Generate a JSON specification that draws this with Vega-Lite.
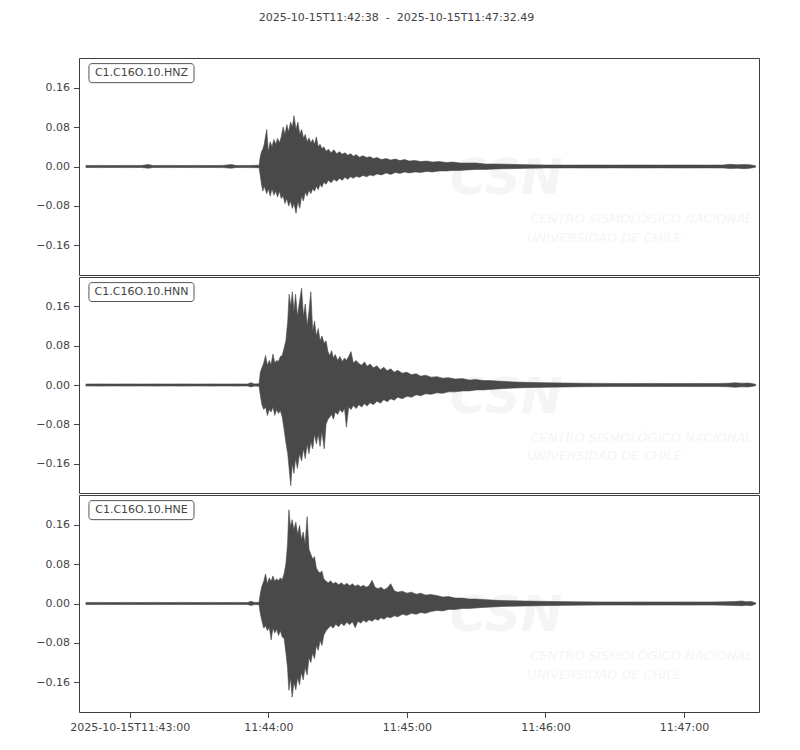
{
  "$schema": "https://vega.github.io/schema/vega-lite/v6.json",
  "padding": {"left": 33, "top": 11, "right": 5, "bottom": 5},
  "title": {
    "text": "2025-10-15T11:42:38 \u00a0-\u00a0 2025-10-15T11:47:32.49",
    "anchor": "middle",
    "font": "DejaVu Sans",
    "fontSize": 11,
    "fontWeight": "normal",
    "color": "#444444",
    "offset": 35
  },
  "datasets": {
    "labels": [
      {"c": "HNZ", "label": "C1.C16O.10.HNZ"},
      {"c": "HNN", "label": "C1.C16O.10.HNN"},
      {"c": "HNE", "label": "C1.C16O.10.HNE"}
    ],
    "wm": [
      {"k": "logo", "s": "CSN"},
      {"k": "l1", "s": "CENTRO SISMOLÓGICO NACIONAL"},
      {"k": "l2", "s": "UNIVERSIDAD DE CHILE"}
    ],
    "hnz": [
      {"t":3,"lo":-0.002,"hi":0.002},{"t":9,"lo":-0.0022,"hi":0.0022},{"t":15,"lo":-0.002,"hi":0.002},{"t":21,"lo":-0.0022,"hi":0.0022},
      {"t":27,"lo":-0.002,"hi":0.002},{"t":30,"lo":-0.0035,"hi":0.004},{"t":32,"lo":-0.002,"hi":0.002},{"t":38,"lo":-0.0022,"hi":0.0022},
      {"t":44,"lo":-0.002,"hi":0.002},{"t":50,"lo":-0.0022,"hi":0.0022},{"t":56,"lo":-0.002,"hi":0.002},{"t":62,"lo":-0.0022,"hi":0.0022},
      {"t":66,"lo":-0.0035,"hi":0.004},{"t":68,"lo":-0.002,"hi":0.002},{"t":74,"lo":-0.0022,"hi":0.0022},{"t":78,"lo":-0.0025,"hi":0.0025},
      {"t":78.5,"lo":-0.018,"hi":0.02},{"t":79,"lo":-0.035,"hi":0.03},{"t":79.6,"lo":-0.05,"hi":0.035},{"t":80.2,"lo":-0.04,"hi":0.045},
      {"t":81.3,"lo":-0.055,"hi":0.075},{"t":82,"lo":-0.045,"hi":0.03},{"t":82.8,"lo":-0.06,"hi":0.05},{"t":83.6,"lo":-0.045,"hi":0.04},
      {"t":84.4,"lo":-0.058,"hi":0.055},{"t":85.2,"lo":-0.05,"hi":0.045},{"t":86,"lo":-0.062,"hi":0.057},{"t":86.8,"lo":-0.05,"hi":0.048},
      {"t":87.6,"lo":-0.065,"hi":0.06},{"t":88.4,"lo":-0.06,"hi":0.08},{"t":89.2,"lo":-0.075,"hi":0.065},{"t":90,"lo":-0.065,"hi":0.085},
      {"t":90.8,"lo":-0.08,"hi":0.07},{"t":91.6,"lo":-0.07,"hi":0.09},{"t":92.4,"lo":-0.085,"hi":0.08},{"t":93.1,"lo":-0.075,"hi":0.103},
      {"t":94,"lo":-0.095,"hi":0.075},{"t":94.8,"lo":-0.07,"hi":0.09},{"t":95.6,"lo":-0.085,"hi":0.065},{"t":96.4,"lo":-0.06,"hi":0.075},
      {"t":97.2,"lo":-0.07,"hi":0.058},{"t":98,"lo":-0.052,"hi":0.065},{"t":98.8,"lo":-0.06,"hi":0.05},{"t":99.6,"lo":-0.048,"hi":0.058},
      {"t":100.4,"lo":-0.055,"hi":0.048},{"t":101.2,"lo":-0.045,"hi":0.055},{"t":102,"lo":-0.05,"hi":0.045},{"t":102.8,"lo":-0.04,"hi":0.06},
      {"t":103.6,"lo":-0.047,"hi":0.04},{"t":104.4,"lo":-0.036,"hi":0.045},{"t":105.2,"lo":-0.042,"hi":0.036},{"t":106,"lo":-0.032,"hi":0.04},
      {"t":107,"lo":-0.036,"hi":0.031},{"t":108,"lo":-0.028,"hi":0.035},{"t":109.2,"lo":-0.033,"hi":0.028},{"t":110.4,"lo":-0.026,"hi":0.034},
      {"t":111.6,"lo":-0.03,"hi":0.026},{"t":112.8,"lo":-0.024,"hi":0.03},{"t":114,"lo":-0.028,"hi":0.025},{"t":115.2,"lo":-0.022,"hi":0.028},
      {"t":116.4,"lo":-0.026,"hi":0.023},{"t":117.6,"lo":-0.021,"hi":0.026},{"t":118.8,"lo":-0.024,"hi":0.021},{"t":120,"lo":-0.02,"hi":0.024},
      {"t":121.5,"lo":-0.022,"hi":0.019},{"t":123,"lo":-0.018,"hi":0.022},{"t":124.5,"lo":-0.021,"hi":0.018},{"t":126,"lo":-0.017,"hi":0.02},
      {"t":127.5,"lo":-0.019,"hi":0.016},{"t":129,"lo":-0.015,"hi":0.018},{"t":131,"lo":-0.017,"hi":0.014},{"t":133,"lo":-0.013,"hi":0.016},
      {"t":135,"lo":-0.016,"hi":0.013},{"t":137,"lo":-0.012,"hi":0.015},{"t":139,"lo":-0.014,"hi":0.012},{"t":141,"lo":-0.011,"hi":0.014},
      {"t":143,"lo":-0.013,"hi":0.011},{"t":145.5,"lo":-0.011,"hi":0.012},{"t":148,"lo":-0.012,"hi":0.01},{"t":150.5,"lo":-0.01,"hi":0.011},
      {"t":153,"lo":-0.011,"hi":0.009},{"t":156,"lo":-0.009,"hi":0.01},{"t":159,"lo":-0.009,"hi":0.008},{"t":162,"lo":-0.008,"hi":0.009},
      {"t":165,"lo":-0.008,"hi":0.007},{"t":168,"lo":-0.007,"hi":0.007},{"t":172,"lo":-0.006,"hi":0.007},{"t":176,"lo":-0.006,"hi":0.005},
      {"t":180,"lo":-0.005,"hi":0.005},{"t":185,"lo":-0.0045,"hi":0.0045},{"t":190,"lo":-0.004,"hi":0.004},{"t":195,"lo":-0.0035,"hi":0.0035},
      {"t":202,"lo":-0.003,"hi":0.003},{"t":212,"lo":-0.0028,"hi":0.0028},{"t":222,"lo":-0.003,"hi":0.003},{"t":232,"lo":-0.0028,"hi":0.0028},
      {"t":242,"lo":-0.003,"hi":0.003},{"t":252,"lo":-0.0028,"hi":0.0028},{"t":262,"lo":-0.003,"hi":0.003},{"t":272,"lo":-0.0028,"hi":0.0028},
      {"t":279,"lo":-0.003,"hi":0.003},{"t":282,"lo":-0.004,"hi":0.0045},{"t":285,"lo":-0.0035,"hi":0.0035},{"t":288,"lo":-0.0045,"hi":0.004},
      {"t":290.5,"lo":-0.0035,"hi":0.0035},{"t":293,"lo":-0.0015,"hi":0.0015}
    ],
    "hnn": [
      {"t":3,"lo":-0.002,"hi":0.002},{"t":9,"lo":-0.0022,"hi":0.0022},{"t":15,"lo":-0.002,"hi":0.002},{"t":21,"lo":-0.0022,"hi":0.0022},
      {"t":27,"lo":-0.002,"hi":0.002},{"t":33,"lo":-0.0022,"hi":0.0022},{"t":39,"lo":-0.002,"hi":0.002},{"t":45,"lo":-0.0022,"hi":0.0022},
      {"t":51,"lo":-0.002,"hi":0.002},{"t":57,"lo":-0.0022,"hi":0.0022},{"t":63,"lo":-0.002,"hi":0.002},{"t":69,"lo":-0.0022,"hi":0.0022},
      {"t":73,"lo":-0.002,"hi":0.002},{"t":74.5,"lo":-0.004,"hi":0.0045},{"t":76,"lo":-0.0022,"hi":0.0022},{"t":78,"lo":-0.0025,"hi":0.0025},
      {"t":78.5,"lo":-0.02,"hi":0.025},{"t":79.2,"lo":-0.04,"hi":0.035},{"t":80,"lo":-0.05,"hi":0.045},{"t":80.8,"lo":-0.045,"hi":0.06},
      {"t":81.6,"lo":-0.062,"hi":0.04},{"t":82.4,"lo":-0.05,"hi":0.05},{"t":83.2,"lo":-0.055,"hi":0.042},{"t":84,"lo":-0.045,"hi":0.063},
      {"t":84.8,"lo":-0.062,"hi":0.045},{"t":85.6,"lo":-0.05,"hi":0.05},{"t":86.4,"lo":-0.058,"hi":0.048},{"t":87.2,"lo":-0.052,"hi":0.058},
      {"t":88,"lo":-0.065,"hi":0.06},{"t":88.8,"lo":-0.09,"hi":0.075},{"t":89.6,"lo":-0.117,"hi":0.09},{"t":90.4,"lo":-0.14,"hi":0.13},
      {"t":91,"lo":-0.17,"hi":0.185},{"t":91.7,"lo":-0.205,"hi":0.16},{"t":92.4,"lo":-0.16,"hi":0.19},{"t":93.1,"lo":-0.18,"hi":0.15},
      {"t":93.8,"lo":-0.15,"hi":0.185},{"t":94.6,"lo":-0.17,"hi":0.14},{"t":95.5,"lo":-0.14,"hi":0.17},{"t":96.4,"lo":-0.155,"hi":0.197},
      {"t":97.2,"lo":-0.13,"hi":0.14},{"t":98,"lo":-0.15,"hi":0.165},{"t":98.8,"lo":-0.12,"hi":0.12},{"t":99.6,"lo":-0.14,"hi":0.15},
      {"t":100.4,"lo":-0.115,"hi":0.19},{"t":101.2,"lo":-0.13,"hi":0.11},{"t":102,"lo":-0.1,"hi":0.13},{"t":102.8,"lo":-0.12,"hi":0.1},
      {"t":103.6,"lo":-0.1,"hi":0.115},{"t":104.4,"lo":-0.125,"hi":0.09},{"t":105.2,"lo":-0.095,"hi":0.1},{"t":106.2,"lo":-0.13,"hi":0.085},
      {"t":107,"lo":-0.08,"hi":0.09},{"t":107.8,"lo":-0.07,"hi":0.068},{"t":108.6,"lo":-0.065,"hi":0.06},{"t":109.4,"lo":-0.06,"hi":0.07},
      {"t":110.2,"lo":-0.07,"hi":0.055},{"t":111,"lo":-0.055,"hi":0.062},{"t":112,"lo":-0.06,"hi":0.05},{"t":113,"lo":-0.05,"hi":0.058},
      {"t":114,"lo":-0.056,"hi":0.048},{"t":115,"lo":-0.048,"hi":0.055},{"t":115.8,"lo":-0.086,"hi":0.05},{"t":116.8,"lo":-0.045,"hi":0.058},
      {"t":117.8,"lo":-0.05,"hi":0.068},{"t":118.8,"lo":-0.042,"hi":0.045},{"t":120,"lo":-0.048,"hi":0.05},{"t":121.2,"lo":-0.04,"hi":0.044},
      {"t":122.4,"lo":-0.045,"hi":0.04},{"t":123.6,"lo":-0.038,"hi":0.047},{"t":124.8,"lo":-0.043,"hi":0.038},{"t":126,"lo":-0.036,"hi":0.043},
      {"t":127.5,"lo":-0.04,"hi":0.035},{"t":129,"lo":-0.033,"hi":0.039},{"t":130.5,"lo":-0.037,"hi":0.031},{"t":132,"lo":-0.03,"hi":0.036},
      {"t":133.5,"lo":-0.034,"hi":0.029},{"t":135,"lo":-0.028,"hi":0.033},{"t":136.5,"lo":-0.031,"hi":0.026},{"t":138,"lo":-0.025,"hi":0.03},
      {"t":140,"lo":-0.028,"hi":0.024},{"t":142,"lo":-0.023,"hi":0.026},{"t":144,"lo":-0.025,"hi":0.021},{"t":146,"lo":-0.02,"hi":0.023},
      {"t":148,"lo":-0.022,"hi":0.018},{"t":150,"lo":-0.018,"hi":0.02},{"t":152.5,"lo":-0.019,"hi":0.016},{"t":155,"lo":-0.016,"hi":0.017},
      {"t":157.5,"lo":-0.017,"hi":0.014},{"t":160,"lo":-0.014,"hi":0.015},{"t":163,"lo":-0.014,"hi":0.012},{"t":166,"lo":-0.012,"hi":0.013},
      {"t":169,"lo":-0.012,"hi":0.01},{"t":172,"lo":-0.01,"hi":0.011},{"t":175,"lo":-0.01,"hi":0.009},{"t":178,"lo":-0.009,"hi":0.009},
      {"t":181,"lo":-0.008,"hi":0.008},{"t":185,"lo":-0.007,"hi":0.007},{"t":189,"lo":-0.006,"hi":0.006},{"t":193,"lo":-0.0055,"hi":0.0055},
      {"t":197,"lo":-0.005,"hi":0.005},{"t":203,"lo":-0.0045,"hi":0.0045},{"t":210,"lo":-0.004,"hi":0.004},{"t":218,"lo":-0.0035,"hi":0.0035},
      {"t":228,"lo":-0.0032,"hi":0.0032},{"t":238,"lo":-0.003,"hi":0.003},{"t":248,"lo":-0.0032,"hi":0.0032},{"t":258,"lo":-0.003,"hi":0.003},
      {"t":268,"lo":-0.0032,"hi":0.0032},{"t":276,"lo":-0.003,"hi":0.003},{"t":281,"lo":-0.0035,"hi":0.0035},{"t":284,"lo":-0.0045,"hi":0.0045},
      {"t":287,"lo":-0.0038,"hi":0.0038},{"t":290,"lo":-0.004,"hi":0.004},{"t":293,"lo":-0.0015,"hi":0.0015}
    ],
    "hne": [
      {"t":3,"lo":-0.002,"hi":0.002},{"t":9,"lo":-0.0022,"hi":0.0022},{"t":15,"lo":-0.002,"hi":0.002},{"t":21,"lo":-0.0022,"hi":0.0022},
      {"t":27,"lo":-0.002,"hi":0.002},{"t":33,"lo":-0.0022,"hi":0.0022},{"t":39,"lo":-0.002,"hi":0.002},{"t":45,"lo":-0.0022,"hi":0.0022},
      {"t":51,"lo":-0.002,"hi":0.002},{"t":57,"lo":-0.0022,"hi":0.0022},{"t":63,"lo":-0.002,"hi":0.002},{"t":69,"lo":-0.0022,"hi":0.0022},
      {"t":73,"lo":-0.002,"hi":0.002},{"t":74.5,"lo":-0.004,"hi":0.0045},{"t":76,"lo":-0.0022,"hi":0.0022},{"t":78,"lo":-0.0025,"hi":0.0025},
      {"t":78.5,"lo":-0.02,"hi":0.02},{"t":79.2,"lo":-0.035,"hi":0.035},{"t":80,"lo":-0.05,"hi":0.045},{"t":80.8,"lo":-0.045,"hi":0.06},
      {"t":81.6,"lo":-0.055,"hi":0.04},{"t":82.4,"lo":-0.048,"hi":0.052},{"t":83.2,"lo":-0.074,"hi":0.045},{"t":84,"lo":-0.05,"hi":0.056},
      {"t":84.8,"lo":-0.06,"hi":0.045},{"t":85.6,"lo":-0.052,"hi":0.05},{"t":86.4,"lo":-0.065,"hi":0.046},{"t":87.2,"lo":-0.055,"hi":0.052},
      {"t":88,"lo":-0.068,"hi":0.048},{"t":88.8,"lo":-0.07,"hi":0.06},{"t":89.6,"lo":-0.1,"hi":0.08},{"t":90.3,"lo":-0.13,"hi":0.12},
      {"t":90.9,"lo":-0.176,"hi":0.19},{"t":91.6,"lo":-0.15,"hi":0.155},{"t":92.3,"lo":-0.19,"hi":0.17},{"t":93.1,"lo":-0.16,"hi":0.15},
      {"t":93.9,"lo":-0.175,"hi":0.165},{"t":94.7,"lo":-0.15,"hi":0.14},{"t":95.5,"lo":-0.165,"hi":0.158},{"t":96.3,"lo":-0.14,"hi":0.13},
      {"t":97.1,"lo":-0.155,"hi":0.145},{"t":97.9,"lo":-0.13,"hi":0.12},{"t":98.8,"lo":-0.145,"hi":0.176},{"t":99.6,"lo":-0.11,"hi":0.11},
      {"t":100.4,"lo":-0.12,"hi":0.1},{"t":101.2,"lo":-0.1,"hi":0.09},{"t":102,"lo":-0.112,"hi":0.095},{"t":102.8,"lo":-0.085,"hi":0.072},
      {"t":103.6,"lo":-0.095,"hi":0.065},{"t":104.4,"lo":-0.075,"hi":0.062},{"t":105.2,"lo":-0.085,"hi":0.066},{"t":106,"lo":-0.065,"hi":0.05},
      {"t":107,"lo":-0.055,"hi":0.045},{"t":108,"lo":-0.05,"hi":0.042},{"t":109,"lo":-0.045,"hi":0.046},{"t":110,"lo":-0.05,"hi":0.04},
      {"t":111.2,"lo":-0.042,"hi":0.043},{"t":112.4,"lo":-0.047,"hi":0.038},{"t":113.6,"lo":-0.04,"hi":0.042},{"t":114.8,"lo":-0.045,"hi":0.037},
      {"t":116,"lo":-0.038,"hi":0.041},{"t":117.2,"lo":-0.043,"hi":0.036},{"t":118.4,"lo":-0.037,"hi":0.04},{"t":119.6,"lo":-0.049,"hi":0.035},
      {"t":120.8,"lo":-0.036,"hi":0.038},{"t":122,"lo":-0.04,"hi":0.034},{"t":123.2,"lo":-0.034,"hi":0.037},{"t":124.4,"lo":-0.038,"hi":0.033},
      {"t":125.6,"lo":-0.033,"hi":0.036},{"t":126.9,"lo":-0.036,"hi":0.047},{"t":128.2,"lo":-0.031,"hi":0.033},{"t":129.5,"lo":-0.034,"hi":0.03},
      {"t":130.8,"lo":-0.029,"hi":0.033},{"t":132.1,"lo":-0.032,"hi":0.028},{"t":133.4,"lo":-0.027,"hi":0.031},{"t":135,"lo":-0.029,"hi":0.04},
      {"t":136.5,"lo":-0.025,"hi":0.026},{"t":138,"lo":-0.027,"hi":0.023},{"t":140,"lo":-0.022,"hi":0.025},{"t":142,"lo":-0.024,"hi":0.021},
      {"t":144,"lo":-0.02,"hi":0.023},{"t":146,"lo":-0.022,"hi":0.019},{"t":148,"lo":-0.018,"hi":0.021},{"t":150,"lo":-0.02,"hi":0.017},
      {"t":152.5,"lo":-0.016,"hi":0.018},{"t":155,"lo":-0.014,"hi":0.016},{"t":157.5,"lo":-0.015,"hi":0.013},{"t":160,"lo":-0.012,"hi":0.014},
      {"t":163,"lo":-0.012,"hi":0.011},{"t":166,"lo":-0.01,"hi":0.011},{"t":169,"lo":-0.01,"hi":0.009},{"t":172,"lo":-0.009,"hi":0.009},
      {"t":175,"lo":-0.008,"hi":0.008},{"t":179,"lo":-0.007,"hi":0.007},{"t":183,"lo":-0.006,"hi":0.006},{"t":188,"lo":-0.0055,"hi":0.0055},
      {"t":193,"lo":-0.005,"hi":0.005},{"t":199,"lo":-0.0045,"hi":0.0045},{"t":206,"lo":-0.004,"hi":0.004},{"t":214,"lo":-0.0035,"hi":0.0035},
      {"t":224,"lo":-0.0032,"hi":0.0032},{"t":234,"lo":-0.003,"hi":0.003},{"t":244,"lo":-0.0032,"hi":0.0032},{"t":254,"lo":-0.003,"hi":0.003},
      {"t":264,"lo":-0.0032,"hi":0.0032},{"t":274,"lo":-0.003,"hi":0.003},{"t":280,"lo":-0.0035,"hi":0.0035},{"t":284,"lo":-0.004,"hi":0.004},
      {"t":287,"lo":-0.0045,"hi":0.005},{"t":289,"lo":-0.0038,"hi":0.0038},{"t":291,"lo":-0.0045,"hi":0.004},{"t":293,"lo":-0.0015,"hi":0.0015}
    ]
  },
  "spacing": 0,
  "vconcat": [
    {
      "width": 680,
      "height": 217,
      "layer": [
        {
          "data": {"name": "wm"},
          "transform": [{"filter": "datum.k == 'logo'"}],
          "mark": {"type": "text", "font": "DejaVu Sans", "fontSize": 50, "fontWeight": "bold", "fontStyle": "italic", "color": "#f5f5f5", "align": "center", "baseline": "middle"},
          "encoding": {
            "x": {"datum": 185, "type": "quantitative", "axis": null, "scale": {"domain": [0, 294.49], "nice": false, "zero": false}},
            "y": {"datum": -0.026, "type": "quantitative", "scale": {"domain": [-0.22, 0.22], "nice": false, "zero": false}, "axis": {"title": null, "values": [-0.16, -0.08, 0, 0.08, 0.16], "format": ".2f"}},
            "text": {"field": "s"}
          }
        },
        {
          "data": {"name": "wm"},
          "transform": [{"filter": "datum.k == 'l1'"}],
          "mark": {"type": "text", "font": "DejaVu Sans", "fontSize": 13, "fontStyle": "italic", "color": "#f5f5f5", "align": "left", "baseline": "middle"},
          "encoding": {
            "x": {"datum": 195.5, "type": "quantitative", "axis": null},
            "y": {"datum": -0.107, "type": "quantitative", "axis": {"title": null, "values": [-0.16, -0.08, 0, 0.08, 0.16], "format": ".2f"}},
            "text": {"field": "s"}
          }
        },
        {
          "data": {"name": "wm"},
          "transform": [{"filter": "datum.k == 'l2'"}],
          "mark": {"type": "text", "font": "DejaVu Sans", "fontSize": 13, "fontStyle": "italic", "color": "#f5f5f5", "align": "left", "baseline": "middle"},
          "encoding": {
            "x": {"datum": 194, "type": "quantitative", "axis": null},
            "y": {"datum": -0.144, "type": "quantitative", "axis": {"title": null, "values": [-0.16, -0.08, 0, 0.08, 0.16], "format": ".2f"}},
            "text": {"field": "s"}
          }
        },
        {
          "data": {"name": "hnz"},
          "mark": {"type": "area", "color": "#494949", "stroke": "#494949", "strokeWidth": 0.6, "strokeJoin": "round"},
          "encoding": {
            "x": {"field": "t", "type": "quantitative", "axis": null, "scale": {"domain": [0, 294.49], "nice": false, "zero": false}},
            "y": {"field": "hi", "type": "quantitative", "scale": {"domain": [-0.22, 0.22], "nice": false, "zero": false}, "axis": {"title": null, "values": [-0.16, -0.08, 0, 0.08, 0.16], "format": ".2f"}},
            "y2": {"field": "lo"}
          }
        },
        {
          "data": {"name": "labels"},
          "transform": [{"filter": "datum.c == 'HNZ'"}],
          "layer": [
            {
              "mark": {"type": "rect", "fill": "white", "stroke": "#555555", "strokeWidth": 1, "cornerRadius": 3},
              "encoding": {
                "x": {"datum": 4.3, "type": "quantitative", "axis": null},
                "x2": {"datum": 49.8},
                "y": {"datum": 0.2086, "type": "quantitative", "axis": {"title": null, "values": [-0.16, -0.08, 0, 0.08, 0.16], "format": ".2f"}},
                "y2": {"datum": 0.17}
              }
            },
            {
              "mark": {"type": "text", "font": "DejaVu Sans", "fontSize": 11, "color": "#444444", "align": "center", "baseline": "middle"},
              "encoding": {
                "x": {"datum": 27.05, "type": "quantitative", "axis": null},
                "y": {"datum": 0.1893, "type": "quantitative", "axis": {"title": null, "values": [-0.16, -0.08, 0, 0.08, 0.16], "format": ".2f"}},
                "text": {"field": "label"}
              }
            }
          ]
        }
      ]
    },
    {
      "width": 680,
      "height": 216,
      "layer": [
        {
          "data": {"name": "wm"},
          "transform": [{"filter": "datum.k == 'logo'"}],
          "mark": {"type": "text", "font": "DejaVu Sans", "fontSize": 50, "fontWeight": "bold", "fontStyle": "italic", "color": "#f5f5f5", "align": "center", "baseline": "middle"},
          "encoding": {
            "x": {"datum": 185, "type": "quantitative", "axis": null, "scale": {"domain": [0, 294.49], "nice": false, "zero": false}},
            "y": {"datum": -0.026, "type": "quantitative", "scale": {"domain": [-0.22, 0.22], "nice": false, "zero": false}, "axis": {"title": null, "values": [-0.16, -0.08, 0, 0.08, 0.16], "format": ".2f"}},
            "text": {"field": "s"}
          }
        },
        {
          "data": {"name": "wm"},
          "transform": [{"filter": "datum.k == 'l1'"}],
          "mark": {"type": "text", "font": "DejaVu Sans", "fontSize": 13, "fontStyle": "italic", "color": "#f5f5f5", "align": "left", "baseline": "middle"},
          "encoding": {
            "x": {"datum": 195.5, "type": "quantitative", "axis": null},
            "y": {"datum": -0.107, "type": "quantitative", "axis": {"title": null, "values": [-0.16, -0.08, 0, 0.08, 0.16], "format": ".2f"}},
            "text": {"field": "s"}
          }
        },
        {
          "data": {"name": "wm"},
          "transform": [{"filter": "datum.k == 'l2'"}],
          "mark": {"type": "text", "font": "DejaVu Sans", "fontSize": 13, "fontStyle": "italic", "color": "#f5f5f5", "align": "left", "baseline": "middle"},
          "encoding": {
            "x": {"datum": 194, "type": "quantitative", "axis": null},
            "y": {"datum": -0.144, "type": "quantitative", "axis": {"title": null, "values": [-0.16, -0.08, 0, 0.08, 0.16], "format": ".2f"}},
            "text": {"field": "s"}
          }
        },
        {
          "data": {"name": "hnn"},
          "mark": {"type": "area", "color": "#494949", "stroke": "#494949", "strokeWidth": 0.6, "strokeJoin": "round"},
          "encoding": {
            "x": {"field": "t", "type": "quantitative", "axis": null, "scale": {"domain": [0, 294.49], "nice": false, "zero": false}},
            "y": {"field": "hi", "type": "quantitative", "scale": {"domain": [-0.22, 0.22], "nice": false, "zero": false}, "axis": {"title": null, "values": [-0.16, -0.08, 0, 0.08, 0.16], "format": ".2f"}},
            "y2": {"field": "lo"}
          }
        },
        {
          "data": {"name": "labels"},
          "transform": [{"filter": "datum.c == 'HNN'"}],
          "layer": [
            {
              "mark": {"type": "rect", "fill": "white", "stroke": "#555555", "strokeWidth": 1, "cornerRadius": 3},
              "encoding": {
                "x": {"datum": 4.3, "type": "quantitative", "axis": null},
                "x2": {"datum": 49.8},
                "y": {"datum": 0.2086, "type": "quantitative", "axis": {"title": null, "values": [-0.16, -0.08, 0, 0.08, 0.16], "format": ".2f"}},
                "y2": {"datum": 0.17}
              }
            },
            {
              "mark": {"type": "text", "font": "DejaVu Sans", "fontSize": 11, "color": "#444444", "align": "center", "baseline": "middle"},
              "encoding": {
                "x": {"datum": 27.05, "type": "quantitative", "axis": null},
                "y": {"datum": 0.1893, "type": "quantitative", "axis": {"title": null, "values": [-0.16, -0.08, 0, 0.08, 0.16], "format": ".2f"}},
                "text": {"field": "label"}
              }
            }
          ]
        }
      ]
    },
    {
      "width": 680,
      "height": 217,
      "layer": [
        {
          "data": {"name": "wm"},
          "transform": [{"filter": "datum.k == 'logo'"}],
          "mark": {"type": "text", "font": "DejaVu Sans", "fontSize": 50, "fontWeight": "bold", "fontStyle": "italic", "color": "#f5f5f5", "align": "center", "baseline": "middle"},
          "encoding": {
            "x": {"datum": 185, "type": "quantitative", "scale": {"domain": [0, 294.49], "nice": false, "zero": false}, "axis": {"title": null, "values": [22, 82, 142, 202, 262], "labelExpr": "datum.value == 22 ? '2025-10-15T11:43:00' : '11:' + (42 + (datum.value + 38) / 60) + ':00'"}},
            "y": {"datum": -0.026, "type": "quantitative", "scale": {"domain": [-0.22, 0.22], "nice": false, "zero": false}, "axis": {"title": null, "values": [-0.16, -0.08, 0, 0.08, 0.16], "format": ".2f"}},
            "text": {"field": "s"}
          }
        },
        {
          "data": {"name": "wm"},
          "transform": [{"filter": "datum.k == 'l1'"}],
          "mark": {"type": "text", "font": "DejaVu Sans", "fontSize": 13, "fontStyle": "italic", "color": "#f5f5f5", "align": "left", "baseline": "middle"},
          "encoding": {
            "x": {"datum": 195.5, "type": "quantitative", "axis": {"title": null, "values": [22, 82, 142, 202, 262], "labelExpr": "datum.value == 22 ? '2025-10-15T11:43:00' : '11:' + (42 + (datum.value + 38) / 60) + ':00'"}},
            "y": {"datum": -0.107, "type": "quantitative", "axis": {"title": null, "values": [-0.16, -0.08, 0, 0.08, 0.16], "format": ".2f"}},
            "text": {"field": "s"}
          }
        },
        {
          "data": {"name": "wm"},
          "transform": [{"filter": "datum.k == 'l2'"}],
          "mark": {"type": "text", "font": "DejaVu Sans", "fontSize": 13, "fontStyle": "italic", "color": "#f5f5f5", "align": "left", "baseline": "middle"},
          "encoding": {
            "x": {"datum": 194, "type": "quantitative", "axis": {"title": null, "values": [22, 82, 142, 202, 262], "labelExpr": "datum.value == 22 ? '2025-10-15T11:43:00' : '11:' + (42 + (datum.value + 38) / 60) + ':00'"}},
            "y": {"datum": -0.144, "type": "quantitative", "axis": {"title": null, "values": [-0.16, -0.08, 0, 0.08, 0.16], "format": ".2f"}},
            "text": {"field": "s"}
          }
        },
        {
          "data": {"name": "hne"},
          "mark": {"type": "area", "color": "#494949", "stroke": "#494949", "strokeWidth": 0.6, "strokeJoin": "round"},
          "encoding": {
            "x": {"field": "t", "type": "quantitative", "scale": {"domain": [0, 294.49], "nice": false, "zero": false}, "axis": {"title": null, "values": [22, 82, 142, 202, 262], "labelExpr": "datum.value == 22 ? '2025-10-15T11:43:00' : '11:' + (42 + (datum.value + 38) / 60) + ':00'"}},
            "y": {"field": "hi", "type": "quantitative", "scale": {"domain": [-0.22, 0.22], "nice": false, "zero": false}, "axis": {"title": null, "values": [-0.16, -0.08, 0, 0.08, 0.16], "format": ".2f"}},
            "y2": {"field": "lo"}
          }
        },
        {
          "data": {"name": "labels"},
          "transform": [{"filter": "datum.c == 'HNE'"}],
          "layer": [
            {
              "mark": {"type": "rect", "fill": "white", "stroke": "#555555", "strokeWidth": 1, "cornerRadius": 3},
              "encoding": {
                "x": {"datum": 4.3, "type": "quantitative", "axis": {"title": null, "values": [22, 82, 142, 202, 262], "labelExpr": "datum.value == 22 ? '2025-10-15T11:43:00' : '11:' + (42 + (datum.value + 38) / 60) + ':00'"}},
                "x2": {"datum": 49.8},
                "y": {"datum": 0.2086, "type": "quantitative", "axis": {"title": null, "values": [-0.16, -0.08, 0, 0.08, 0.16], "format": ".2f"}},
                "y2": {"datum": 0.17}
              }
            },
            {
              "mark": {"type": "text", "font": "DejaVu Sans", "fontSize": 11, "color": "#444444", "align": "center", "baseline": "middle"},
              "encoding": {
                "x": {"datum": 27.05, "type": "quantitative", "axis": {"title": null, "values": [22, 82, 142, 202, 262], "labelExpr": "datum.value == 22 ? '2025-10-15T11:43:00' : '11:' + (42 + (datum.value + 38) / 60) + ':00'"}},
                "y": {"datum": 0.1893, "type": "quantitative", "axis": {"title": null, "values": [-0.16, -0.08, 0, 0.08, 0.16], "format": ".2f"}},
                "text": {"field": "label"}
              }
            }
          ]
        }
      ]
    }
  ],
  "config": {
    "view": {"stroke": "#3d3d3d", "strokeWidth": 1},
    "axis": {"labelFont": "DejaVu Sans", "labelFontSize": 11, "labelColor": "#444444", "tickColor": "#444444", "tickWidth": 1, "grid": false, "domain": false, "tickSize": 5.5, "labelPadding": 4},
    "axisY": {"minExtent": 45, "maxExtent": 45}
  }
}
